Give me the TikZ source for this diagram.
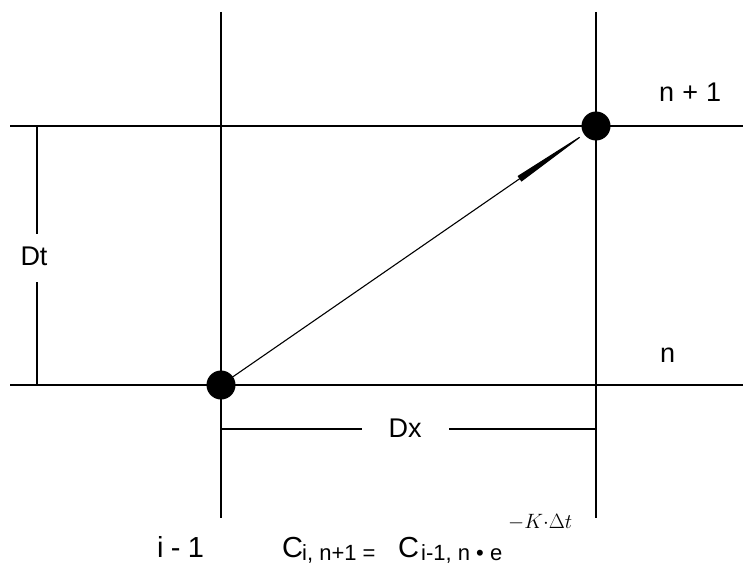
\documentclass[tikz,border=0pt]{standalone}
\usepackage{fontspec}
\setmainfont{Liberation Sans}
\usetikzlibrary{arrows.meta}
\newcommand{\fsz}[1]{\fontsize{#1}{#1}\selectfont}
\begin{document}
\begin{tikzpicture}[x=1pt,y=-1pt,
  gridline/.style={line width=1.4pt},
  dot/.style={circle,fill=black,minimum size=29pt,inner sep=0pt},
  lbl/.style={inner sep=0pt,font=\fsz{27}},
  big/.style={inner sep=0pt,anchor=base west,font=\fsz{29}},
  small/.style={inner sep=0pt,anchor=base west,font=\fsz{22}}]
\useasboundingbox (0,0) rectangle (743,567);
% grid lines
\coordinate (v1t) at (221,12); \coordinate (v1b) at (221,518);
\coordinate (v2t) at (596,12); \coordinate (v2b) at (596,518);
\coordinate (h1l) at (10,126); \coordinate (h1r) at (743,126);
\coordinate (h2l) at (10,385); \coordinate (h2r) at (743,385);
\draw[gridline] (v1t) -- (v1b);
\draw[gridline] (v2t) -- (v2b);
\draw[gridline] (h1l) -- (h1r);
\draw[gridline] (h2l) -- (h2r);
% dots
\node[dot] (d1) at (221,385) {};
\node[dot] (d2) at (596,126) {};
\draw[line width=1.1pt,shorten >=5pt,-{Triangle[length=88pt,width=6.5pt]}] (d1.center) -- (d2.center);
% Dt bracket
\node[lbl] (dt) at (34,256) {Dt};
\coordinate (dtt) at (37,126); \coordinate (dta) at (37,234);
\coordinate (dtb) at (37,282); \coordinate (dtc) at (37,385);
\draw[gridline] (dtt) -- (dta);
\draw[gridline] (dtb) -- (dtc);
% Dx bracket
\node[lbl] (dx) at (405,428) {Dx};
\coordinate (dxa) at (221,429); \coordinate (dxb) at (362,429);
\coordinate (dxc) at (449,429); \coordinate (dxd) at (596,429);
\draw[gridline] (dxa) -- (dxb);
\draw[gridline] (dxc) -- (dxd);
% labels
\node[lbl,anchor=base west] (np1) at (659,102) {n\hspace{0.3em}+\hspace{0.3em}1};
\node[lbl,anchor=base west] (n) at (660,362) {n};
\node[big] (im1) at (157,557) {i\hspace{0.25em}-\hspace{0.25em}1};
% formula
\node[big] (c1) at (282,557) {C};
\node[small] (s1) at (302,560) {i, n+1 =};
\node[big] (c2) at (398,557) {C};
\node[small] (s2) at (421,560) {i-1, n \textbullet{} e};
\node[inner sep=0pt,anchor=base west,font=\fsz{20}] (sup) at (508,528) {$-K{\cdot}\Delta t$};
\end{tikzpicture}
\end{document}
